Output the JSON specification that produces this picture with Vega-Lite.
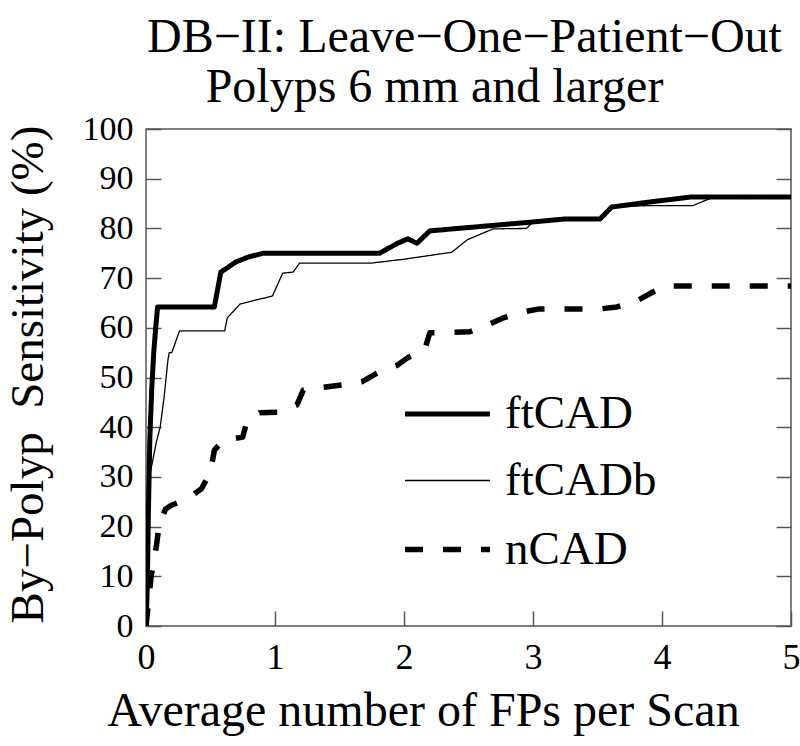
{
  "$schema": "https://vega.github.io/schema/vega-lite/v6.json",
  "autosize": {"type": "none"},
  "padding": {"left": 146, "top": 129, "right": 9, "bottom": 120},
  "width": 645,
  "height": 497,
  "background": "white",
  "config": {
    "view": {"stroke": "#555555", "strokeWidth": 1.5},
    "font": "Liberation Serif",
    "axis": {"grid": false, "domain": false, "tickColor": "#555555", "tickWidth": 1.5, "labelColor": "black", "titleColor": "black", "labelFont": "Liberation Serif", "titleFont": "Liberation Serif", "titleFontWeight": "normal"}
  },
  "title": {
    "text": ["DB−II: Leave−One−Patient−Out", "Polyps 6 mm and larger\u00a0\u00a0\u00a0\u00a0\u00a0\u200b"],
    "font": "Liberation Serif",
    "fontSize": 48,
    "fontWeight": "normal",
    "color": "black",
    "lineHeight": 50,
    "frame": "group",
    "anchor": "middle",
    "dx": -4,
    "offset": 0
  },
  "data": {
    "values": [
      {"series": "ftCAD", "x": 0, "y": 0},
      {"series": "ftCAD", "x": 0.01, "y": 8},
      {"series": "ftCAD", "x": 0.018, "y": 22},
      {"series": "ftCAD", "x": 0.03, "y": 38},
      {"series": "ftCAD", "x": 0.045, "y": 48},
      {"series": "ftCAD", "x": 0.06, "y": 55},
      {"series": "ftCAD", "x": 0.075, "y": 60},
      {"series": "ftCAD", "x": 0.09, "y": 64.2},
      {"series": "ftCAD", "x": 0.53, "y": 64.2},
      {"series": "ftCAD", "x": 0.58, "y": 71.2},
      {"series": "ftCAD", "x": 0.7, "y": 73.3},
      {"series": "ftCAD", "x": 0.8, "y": 74.3},
      {"series": "ftCAD", "x": 0.91, "y": 75},
      {"series": "ftCAD", "x": 1.81, "y": 75},
      {"series": "ftCAD", "x": 1.95, "y": 77},
      {"series": "ftCAD", "x": 2.03, "y": 77.9},
      {"series": "ftCAD", "x": 2.1, "y": 77},
      {"series": "ftCAD", "x": 2.2, "y": 79.5},
      {"series": "ftCAD", "x": 2.6, "y": 80.4},
      {"series": "ftCAD", "x": 3.0, "y": 81.3},
      {"series": "ftCAD", "x": 3.25, "y": 81.9},
      {"series": "ftCAD", "x": 3.52, "y": 81.9},
      {"series": "ftCAD", "x": 3.61, "y": 84.3},
      {"series": "ftCAD", "x": 3.9, "y": 85.3},
      {"series": "ftCAD", "x": 4.22, "y": 86.3},
      {"series": "ftCAD", "x": 5, "y": 86.3},
      {"series": "ftCADb", "x": 0, "y": 0},
      {"series": "ftCADb", "x": 0.01, "y": 8},
      {"series": "ftCADb", "x": 0.018, "y": 22},
      {"series": "ftCADb", "x": 0.025, "y": 30},
      {"series": "ftCADb", "x": 0.05, "y": 33},
      {"series": "ftCADb", "x": 0.08, "y": 37},
      {"series": "ftCADb", "x": 0.11, "y": 40},
      {"series": "ftCADb", "x": 0.14, "y": 46},
      {"series": "ftCADb", "x": 0.17, "y": 53.5},
      {"series": "ftCADb", "x": 0.18, "y": 55},
      {"series": "ftCADb", "x": 0.2, "y": 55},
      {"series": "ftCADb", "x": 0.26, "y": 59.4},
      {"series": "ftCADb", "x": 0.61, "y": 59.4},
      {"series": "ftCADb", "x": 0.63, "y": 62},
      {"series": "ftCADb", "x": 0.73, "y": 64.8},
      {"series": "ftCADb", "x": 0.98, "y": 66.4},
      {"series": "ftCADb", "x": 1.06, "y": 71},
      {"series": "ftCADb", "x": 1.14, "y": 71.2},
      {"series": "ftCADb", "x": 1.19, "y": 73},
      {"series": "ftCADb", "x": 1.74, "y": 73},
      {"series": "ftCADb", "x": 2.0, "y": 73.8},
      {"series": "ftCADb", "x": 2.37, "y": 75.2},
      {"series": "ftCADb", "x": 2.49, "y": 77.7},
      {"series": "ftCADb", "x": 2.69, "y": 79.9},
      {"series": "ftCADb", "x": 2.95, "y": 80},
      {"series": "ftCADb", "x": 3.0, "y": 81.3},
      {"series": "ftCADb", "x": 3.25, "y": 81.9},
      {"series": "ftCADb", "x": 3.52, "y": 81.9},
      {"series": "ftCADb", "x": 3.61, "y": 84.3},
      {"series": "ftCADb", "x": 3.9, "y": 84.6},
      {"series": "ftCADb", "x": 4.24, "y": 84.6},
      {"series": "ftCADb", "x": 4.4, "y": 86.3},
      {"series": "ftCADb", "x": 5, "y": 86.3},
      {"series": "nCAD", "x": 0, "y": 0},
      {"series": "nCAD", "x": 0.02, "y": 5},
      {"series": "nCAD", "x": 0.04, "y": 10},
      {"series": "nCAD", "x": 0.08, "y": 16},
      {"series": "nCAD", "x": 0.1, "y": 20},
      {"series": "nCAD", "x": 0.15, "y": 23.5},
      {"series": "nCAD", "x": 0.19, "y": 24.2},
      {"series": "nCAD", "x": 0.32, "y": 25.6},
      {"series": "nCAD", "x": 0.43, "y": 27.6},
      {"series": "nCAD", "x": 0.5, "y": 31},
      {"series": "nCAD", "x": 0.53, "y": 35.4},
      {"series": "nCAD", "x": 0.6, "y": 37.4},
      {"series": "nCAD", "x": 0.75, "y": 38},
      {"series": "nCAD", "x": 0.78, "y": 41},
      {"series": "nCAD", "x": 0.88, "y": 42.9},
      {"series": "nCAD", "x": 1.04, "y": 43},
      {"series": "nCAD", "x": 1.17, "y": 44.5},
      {"series": "nCAD", "x": 1.22, "y": 47.5},
      {"series": "nCAD", "x": 1.52, "y": 48.5},
      {"series": "nCAD", "x": 1.68, "y": 49.2},
      {"series": "nCAD", "x": 1.8, "y": 51},
      {"series": "nCAD", "x": 1.95, "y": 52.5},
      {"series": "nCAD", "x": 2.03, "y": 54},
      {"series": "nCAD", "x": 2.16, "y": 55.5},
      {"series": "nCAD", "x": 2.2, "y": 59},
      {"series": "nCAD", "x": 2.51, "y": 59.2},
      {"series": "nCAD", "x": 2.64, "y": 60.5},
      {"series": "nCAD", "x": 2.77, "y": 62},
      {"series": "nCAD", "x": 2.92, "y": 63.2},
      {"series": "nCAD", "x": 3.05, "y": 63.8},
      {"series": "nCAD", "x": 3.52, "y": 63.8},
      {"series": "nCAD", "x": 3.65, "y": 64.2},
      {"series": "nCAD", "x": 3.79, "y": 65.2},
      {"series": "nCAD", "x": 3.93, "y": 67.2},
      {"series": "nCAD", "x": 4.02, "y": 68.4},
      {"series": "nCAD", "x": 5, "y": 68.4}
    ]
  },
  "encoding": {
    "x": {
      "field": "x", "type": "quantitative",
      "scale": {"domain": [0, 5], "nice": false, "zero": false},
      "axis": {
        "values": [0, 1, 2, 3, 4, 5], "tickSize": -15, "labelPadding": 29, "labelFlush": false,
        "labelFontSize": 36, "labelOverlap": false,
        "title": "Average number of FPs per Scan", "titleFontSize": 48,
        "titleX": 277, "titleY": 99, "titleBaseline": "alphabetic", "titleAnchor": "middle"
      }
    },
    "detail": {"field": "series"}
  },
  "layer": [
    {
      "mark": {"type": "line", "color": "black", "strokeCap": "butt", "strokeJoin": "round", "clip": true},
      "encoding": {
        "y": {
          "field": "y", "type": "quantitative",
          "scale": {"domain": [0, 100], "nice": false, "zero": false},
          "axis": {
            "values": [0, 10, 20, 30, 40, 50, 60, 70, 80, 90, 100], "tickSize": -15, "labelPadding": 28, "labelFlush": false,
            "labelFontSize": 34, "labelOverlap": false,
            "title": "By−Polyp\u00a0 Sensitivity (%)", "titleFontSize": 47,
            "titleX": -104, "titleY": 245, "titleAngle": -90, "titleBaseline": "alphabetic", "titleAlign": "center", "titleAnchor": "middle"
          }
        },
        "strokeWidth": {
          "field": "series", "type": "nominal",
          "scale": {"type": "ordinal", "domain": ["ftCAD", "ftCADb", "nCAD"], "range": [5, 1.3, 5.5]},
          "legend": null
        },
        "strokeDash": {
          "field": "series", "type": "nominal",
          "scale": {"domain": ["ftCAD", "ftCADb", "nCAD"], "range": [[1, 0], [1, 0], [18, 20]]},
          "legend": {
            "orient": "none", "legendX": 256, "legendY": 240, "title": null,
            "symbolType": "stroke", "symbolSize": 7225, "symbolStrokeColor": "black",
            "labelFontSize": 47, "labelFont": "Liberation Serif", "labelColor": "black",
            "rowPadding": -14, "labelOffset": 12
          }
        }
      }
    },
    {
      "mark": {"type": "line", "opacity": 0},
      "encoding": {
        "y": {
          "field": "y", "type": "quantitative",
          "axis": {"orient": "right", "values": [0, 10, 20, 30, 40, 50, 60, 70, 80, 90, 100], "tickSize": -15, "labels": false, "title": null}
        }
      }
    }
  ],
  "resolve": {"axis": {"y": "independent"}}
}
